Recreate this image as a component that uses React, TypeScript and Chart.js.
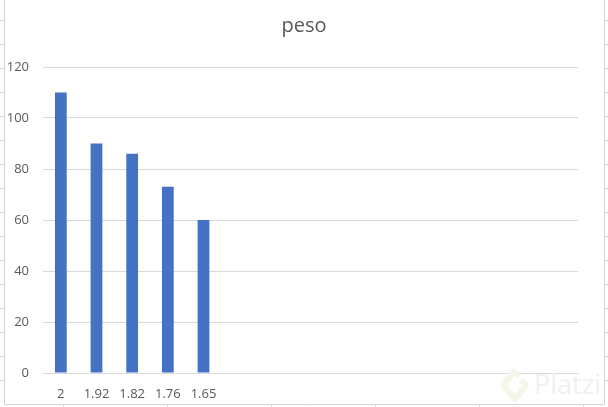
import { useEffect, useRef } from 'react'
import { Chart, Plugin, registerables } from 'chart.js'

Chart.register(...registerables)

const categories = ['2', '1.92', '1.82', '1.76', '1.65', '', '', '', '', '', '', '', '', '', '']
const peso = [110, 90, 86, 73, 60]
const yTicks = [0, 20, 40, 60, 80, 100, 120]

// spreadsheet cell lines behind the chart and the faint watermark
const rowLines = [20, 44, 68, 92, 116, 140, 164, 188, 212, 236, 260, 284, 308, 332, 356, 380]
const columnLines = [63, 167, 271, 375, 479, 583]

const sheetPlugin: Plugin<'bar'> = {
  id: 'sheet',
  beforeDraw(chart) {
    const ctx = chart.ctx
    ctx.save()
    ctx.strokeStyle = '#d4d4d4'
    ctx.lineWidth = 1
    ctx.beginPath()
    ctx.moveTo(4.5, 0)
    ctx.lineTo(4.5, 404.5)
    ctx.lineTo(604.5, 404.5)
    ctx.lineTo(604.5, 0)
    rowLines.forEach((y) => {
      ctx.moveTo(0, y + 0.5)
      ctx.lineTo(4, y + 0.5)
      ctx.moveTo(605, y + 0.5)
      ctx.lineTo(608, y + 0.5)
    })
    columnLines.forEach((x) => {
      ctx.moveTo(x + 0.5, 405)
      ctx.lineTo(x + 0.5, 407)
    })
    ctx.stroke()
    ctx.restore()
  },
  afterDraw(chart) {
    const ctx = chart.ctx
    ctx.save()
    ctx.strokeStyle = '#f3f7e8'
    ctx.lineWidth = 6
    ctx.lineJoin = 'round'
    ctx.beginPath()
    ctx.moveTo(520, 376)
    ctx.lineTo(514, 372)
    ctx.lineTo(503, 385)
    ctx.lineTo(515, 399)
    ctx.lineTo(526, 386)
    ctx.lineTo(521, 380)
    ctx.stroke()
    ctx.fillStyle = '#f0f0f0'
    ctx.font = '27px "Open Sans"'
    ctx.textBaseline = 'middle'
    ctx.textAlign = 'left'
    ctx.fillText('Platzi', 534, 386)
    ctx.restore()
  },
}

export default function App() {
  const canvasRef = useRef<HTMLCanvasElement>(null)

  useEffect(() => {
    if (!canvasRef.current) return
    const chart = new Chart(canvasRef.current, {
      type: 'bar',
      data: {
        labels: categories,
        datasets: [
          {
            label: 'peso',
            data: peso,
            backgroundColor: '#4472c4',
            barPercentage: 0.33,
            categoryPercentage: 1,
          },
        ],
      },
      options: {
        animation: false,
        responsive: false,
        plugins: {
          legend: { display: false },
          tooltip: { enabled: false },
          title: {
            display: true,
            text: 'peso',
            color: '#595959',
            font: { family: '"Open Sans"', size: 20, weight: 'normal' },
            padding: { top: 14, bottom: 29 },
          },
        },
        scales: {
          x: {
            grid: { display: false },
            border: { color: '#d9d9d9' },
            ticks: {
              color: '#595959',
              font: { family: '"Open Sans"', size: 13 },
              autoSkip: false,
              maxRotation: 0,
              padding: 5,
            },
            afterFit: (scale) => {
              scale.height = 34
            },
          },
          y: {
            min: 0,
            max: 120,
            afterBuildTicks: (scale) => {
              scale.ticks = yTicks.map((value) => ({ value }))
            },
            grid: { color: '#d9d9d9', drawTicks: false },
            border: { display: false },
            ticks: {
              color: '#595959',
              font: { family: '"Open Sans"', size: 13 },
              padding: 14,
            },
            afterFit: (scale) => {
              scale.width = 43
            },
          },
          // empty axis that keeps the right margin, the title stays centred on the page
          margin: {
            position: 'right',
            grid: { display: false },
            border: { display: false },
            ticks: { display: false },
            afterFit: (scale) => {
              scale.width = 30
            },
          },
        },
      },
      plugins: [sheetPlugin],
    })
    return () => chart.destroy()
  }, [])

  return (
    <div style={{ position: 'fixed', left: 0, top: 0, width: 608, height: 407, background: '#fff' }}>
      <canvas ref={canvasRef} width={608} height={407} style={{ display: 'block' }} />
    </div>
  )
}
